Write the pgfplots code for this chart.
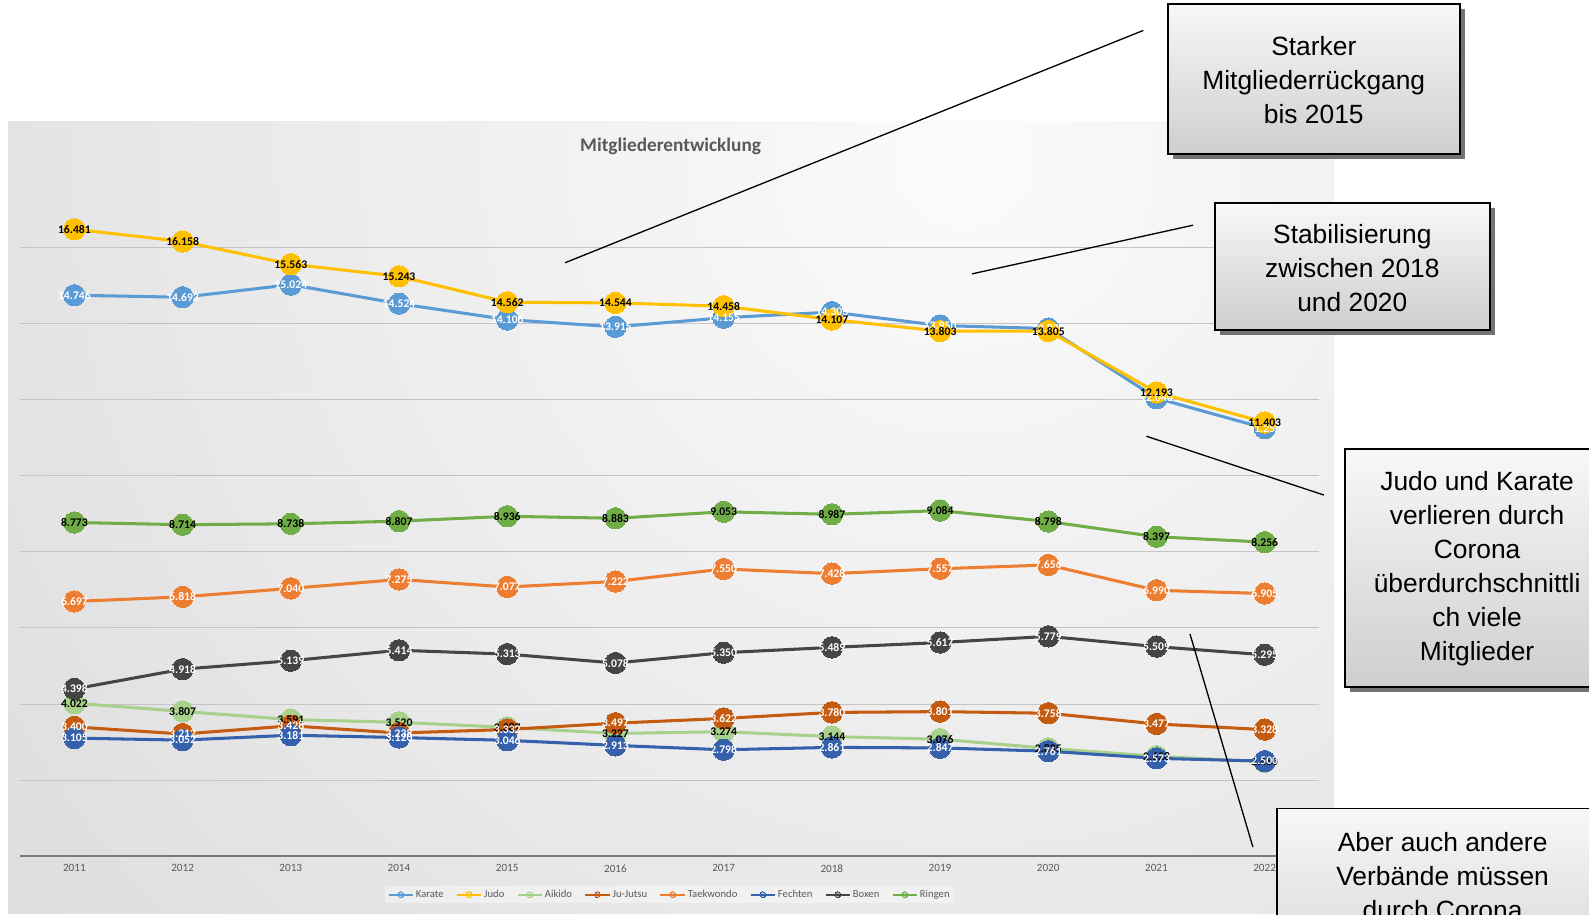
\documentclass[border=0pt]{standalone}
\usepackage{pgfplots}
\pgfplotsset{compat=1.18}
\usepackage{pgfplotstable}
\usepackage{fontspec}
\setmainfont{Carlito}
\newfontfamily\arial{Liberation Sans}

\definecolor{karate}{HTML}{5B9BD5}
\definecolor{judo}{HTML}{FFC000}
\definecolor{aikido}{HTML}{A9D18E}
\definecolor{jujutsu}{HTML}{C55A11}
\definecolor{taekwondo}{HTML}{ED7D31}
\definecolor{fechten}{HTML}{3560AB}
\definecolor{boxen}{HTML}{454545}
\definecolor{ringen}{HTML}{70AD47}
\definecolor{labelgray}{HTML}{595959}
\definecolor{gridgray}{HTML}{C4C4C4}

% Mitglieder je Verband
\pgfplotstableread{
year karate judo  aikido jujutsu taekwondo fechten boxen ringen
2011 14746  16481 4022   3400    6697      3105    4398  8773
2012 14693  16158 3807   3212    6818      3052    4918  8714
2013 15024  15563 3591   3428    7040      3181    5139  8738
2014 14524  15243 3520   3238    7275      3120    5414  8807
2015 14106  14562 3387   3332    7077      3046    5313  8936
2016 13915  14544 3227   3497    7222      2913    5078  8883
2017 14155  14458 3274   3622    7550      2798    5350  9053
2018 14303  14107 3144   3780    7428      2861    5489  8987
2019 13950  13803 3076   3801    7557      2847    5617  9084
2020 13870  13805 2835   3758    7656      2761    5779  8798
2021 12040  12193 2628   3477    6990      2573    5509  8397
2022 11250  11403 2480   3328    6905      2500    5295  8256
}\data

\tikzset{
  lbl/.style={font=\bfseries\fontsize{11.5}{13}\selectfont, anchor=center, inner sep=0pt, text=#1},
}
\pgfplotsset{
  ser/.style={#1, line width=3pt, mark=*, mark size=10.5pt,
    mark options={fill=#1, draw=#1, line width=0pt}},
  lab/.style 2 args={draw=none, mark=none, forget plot, nodes near coords,
    nodes near coords style={lbl=#2}},
}

\begin{document}
\begin{tikzpicture}[x=1pt,y=1pt]

% Diagrammfläche
\begin{scope}
  \clip (8,15) rectangle (1315,795);
  \shade[inner color=gray!3, outer color=gray!32] (950,760) circle (1500);
\end{scope}
\node[font=\bfseries\fontsize{19}{22}\selectfont, text=labelgray] at (661,771) {Mitgliederentwicklung};

\begin{axis}[
  at={(20pt,71pt)}, anchor=south west,
  width=1280pt, height=675pt, scale only axis,
  xmin=2010.5, xmax=2022.5, ymin=0, ymax=18000,
  axis line style={draw=none},
  ytick={2000,4000,...,16000}, yticklabels={}, scaled y ticks=false,
  ymajorgrids, major grid style={draw=gridgray, line width=1pt},
  xtick={2011,...,2022},
  xticklabels={2011,2012,2013,2014,2015,2016,2017,2018,2019,2020,2021,2022},
  xticklabel style={font=\fontsize{11}{13}\selectfont, text=labelgray, anchor=center, yshift=-12pt},
  major tick length=0pt,
  /pgf/number format/fixed,
  /pgf/number format/precision=0,
  /pgf/number format/1000 sep={.},
  /pgf/number format/assume math mode=true,
  clip=false,
  legend columns=8,
  legend cell align=left,
  legend style={at={(0.5,-0.056)}, anchor=center, draw=none,
    fill=white, fill opacity=0.4, text opacity=1,
    font=\fontsize{10.5}{12}\selectfont, text=labelgray, inner sep=2pt,
    /tikz/every even column/.append style={column sep=10pt}},
  legend image code/.code={\draw[mark repeat=2, mark phase=2, #1, line width=2pt, mark size=3pt]
    plot coordinates {(0pt,0pt) (12pt,0pt) (24pt,0pt)};},
]
\draw[labelgray!80, line width=2pt] (axis cs:2010.5,0) -- (axis cs:2022.5,0);

\addplot[ser=karate]    table[x=year, y=karate]{\data};    \addlegendentry{Karate}
\addplot[ser=judo]      table[x=year, y=judo]{\data};      \addlegendentry{Judo}
\addplot[ser=aikido]    table[x=year, y=aikido]{\data};    \addlegendentry{Aikido}
\addplot[ser=jujutsu]   table[x=year, y=jujutsu]{\data};   \addlegendentry{Ju-Jutsu}
\addplot[ser=taekwondo] table[x=year, y=taekwondo]{\data}; \addlegendentry{Taekwondo}
\addplot[ser=fechten]   table[x=year, y=fechten]{\data};   \addlegendentry{Fechten}
\addplot[ser=boxen]     table[x=year, y=boxen]{\data};     \addlegendentry{Boxen}
\addplot[ser=ringen]    table[x=year, y=ringen]{\data};    \addlegendentry{Ringen}

% Datenbeschriftungen
\addplot[lab={}{white}] table[x=year, y=karate]{\data};
\addplot[lab={}{black}] table[x=year, y=judo]{\data};
\addplot[lab={}{black}] table[x=year, y=aikido]{\data};
\addplot[lab={}{white}] table[x=year, y=jujutsu]{\data};
\addplot[lab={}{white}] table[x=year, y=taekwondo]{\data};
\addplot[lab={}{white}] table[x=year, y=fechten]{\data};
\addplot[lab={}{white}] table[x=year, y=boxen]{\data};
\addplot[lab={}{black}] table[x=year, y=ringen]{\data};
\end{axis}

% Hinweislinien
\draw[line width=1.3pt] (557,656) -- (1127,885);
\draw[line width=1.3pt] (958,645) -- (1176,693);
\draw[line width=1.3pt] (1130,485) -- (1305,427);
\draw[line width=1.3pt] (1173,290) -- (1235,80);

% Textfelder
\tikzset{box/.style={top color=gray!6, bottom color=gray!38, draw=black, line width=1.8pt}}
\newcommand\abox[6]{%
  \fill[black!55] (#1+5,#2-5) rectangle (#3+5,#4-5);
  \path[box] (#1,#2) rectangle (#3,#4);
  \node[align=center, font=\arial\fontsize{26}{33.5}\selectfont, inner sep=0pt] at #5 {#6};}
\abox{1151}{763}{1439}{911}{(1295,836)}{Starker\\Mitgliederrückgang\\bis 2015}
\abox{1198}{590}{1469}{715}{(1333,651)}{Stabilisierung\\zwischen 2018\\und 2020}
\abox{1326}{238}{1600}{472}{(1456,354)}{Judo und Karate\\verlieren durch\\Corona\\überdurchschnittli\\ch viele\\Mitglieder}
\abox{1259}{-85}{1600}{118}{(1422,51)}{Aber auch andere\\Verbände müssen\\durch Corona}

% Seitengröße wie Vorlage
\pgfresetboundingbox
\useasboundingbox (0,13.1) rectangle (1566.3,915);
\end{tikzpicture}
\end{document}
